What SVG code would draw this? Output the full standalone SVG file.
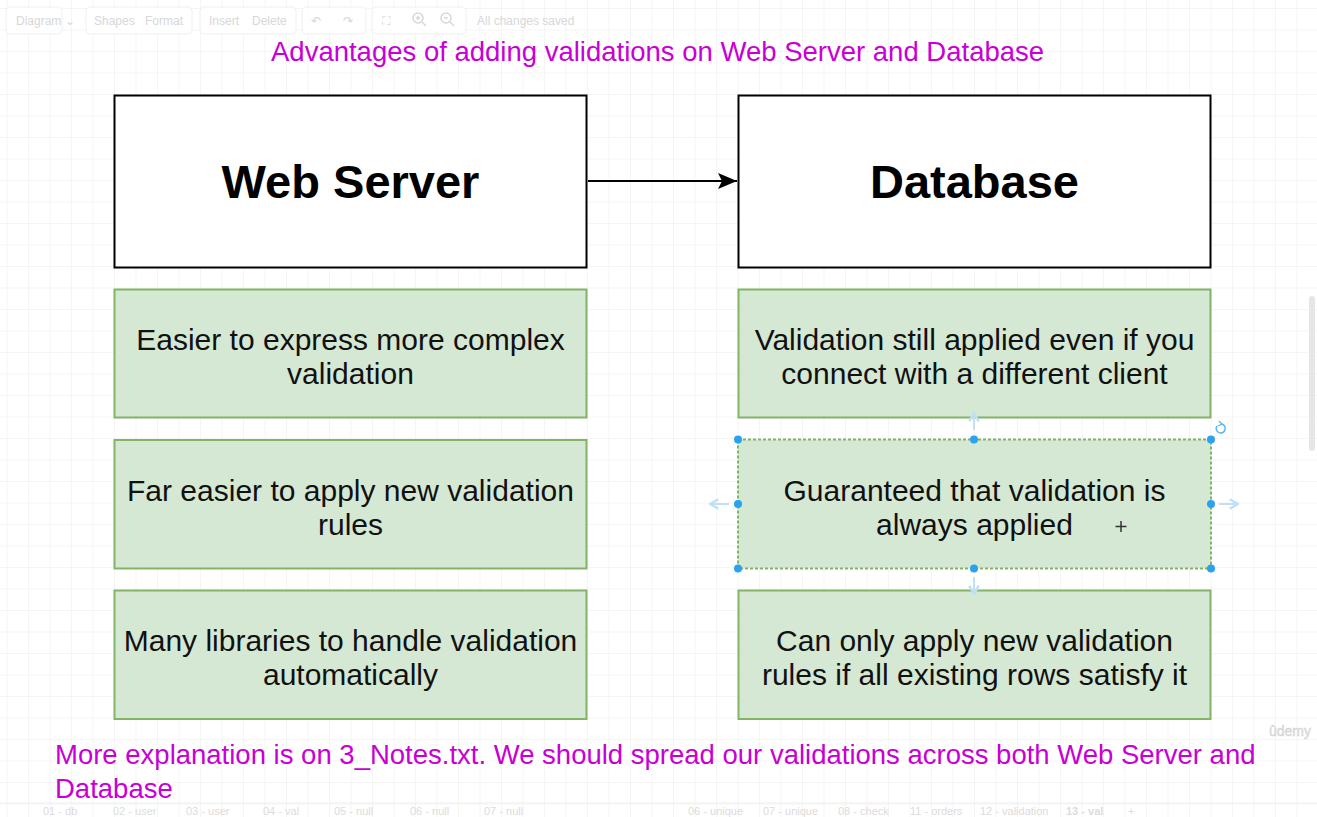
<svg xmlns="http://www.w3.org/2000/svg" width="1317" height="817" viewBox="0 0 1317 817">
<defs>
<pattern id="grid" x="6.5" y="8" width="21.5" height="21.5" patternUnits="userSpaceOnUse">
<path d="M0 0H21.5M0 0V21.5" fill="none" stroke="#ececec" stroke-width="1"/>
</pattern>
<marker id="arr" viewBox="0 0 20 18" refX="19" refY="9" markerWidth="20" markerHeight="18" markerUnits="userSpaceOnUse" orient="auto">
<path d="M0 1L19 9L0 17L4 9Z" fill="#000"/>
</marker>
<marker id="harr" viewBox="0 0 10 10" refX="9" refY="5" markerWidth="12" markerHeight="12" markerUnits="userSpaceOnUse" orient="auto">
<path d="M2 1L9 5L2 9" fill="none" stroke="#bfe0f7" stroke-width="2"/>
</marker>
</defs>
<style>
.ui{font-family:"Liberation Sans",Arial,sans-serif;font-size:12px;fill:#d4d4d4}
.tab{font-family:"Liberation Sans",Arial,sans-serif;font-size:11px;fill:#dcdcdc}
.note{font-family:"Liberation Sans",Arial,sans-serif;font-size:27.5px;fill:#c800d4}
.head{fill:#fff;stroke:#000;stroke-width:2}
.headt{font-family:"Liberation Sans",Arial,sans-serif;font-size:47px;font-weight:bold;fill:#000;text-anchor:middle}
.box{fill:#d5e8d4;stroke:#82b366;stroke-width:2}
.boxt{font-family:"Liberation Sans",Arial,sans-serif;font-size:30px;fill:#111;text-anchor:middle}
.h{fill:#29a3ef}
</style>
<rect width="1317" height="817" fill="#fff"/>
<rect width="1317" height="817" fill="url(#grid)"/>
<g id="toolbar" opacity="0.9">
<rect x="6" y="7" width="56" height="27" rx="4" fill="#fff" stroke="#f0f0f0"/>
<rect x="86" y="7" width="106" height="27" rx="4" fill="#fff" stroke="#f0f0f0"/>
<rect x="200" y="7" width="96" height="27" rx="4" fill="#fff" stroke="#f0f0f0"/>
<rect x="302" y="7" width="64" height="27" rx="4" fill="#fff" stroke="#f0f0f0"/>
<rect x="372" y="7" width="94" height="27" rx="4" fill="#fff" stroke="#f0f0f0"/>
<text class="ui" x="16" y="25">Diagram ⌄</text>
<text class="ui" x="94" y="25">Shapes</text>
<text class="ui" x="145" y="25">Format</text>
<text class="ui" x="209" y="25">Insert</text>
<text class="ui" x="252" y="25">Delete</text>
<text class="ui" x="311" y="25">↶</text>
<text class="ui" x="343" y="25">↷</text>
<text class="ui" x="382" y="25">⛶</text>
<circle cx="418" cy="18" r="5" fill="none" stroke="#d4d4d4" stroke-width="1.5"/>
<path d="M422 22L426 26M416 18H420M418 16V20" stroke="#d4d4d4" stroke-width="1.5"/>
<circle cx="446" cy="18" r="5" fill="none" stroke="#d4d4d4" stroke-width="1.5"/>
<path d="M450 22L454 26M444 18H448" stroke="#d4d4d4" stroke-width="1.5"/>
<text class="ui" x="477" y="25">All changes saved</text>
</g>
<g id="title">
<text class="note" x="271" y="61">Advantages of adding validations on Web Server and Database</text>
</g>
<g id="connectors">
<line x1="588" y1="181" x2="737" y2="181" stroke="#000" stroke-width="2" marker-end="url(#arr)"/>
</g>
<g id="web-server">
<rect class="head" x="114.5" y="95.5" width="472" height="172"/>
<text class="headt" x="350.5" y="198">Web Server</text>
</g>
<g id="database">
<rect class="head" x="738.5" y="95.5" width="472" height="172"/>
<text class="headt" x="974.5" y="198">Database</text>
</g>
<g id="ws-1">
<rect class="box" x="114.5" y="289.5" width="472" height="128"/>
<text class="boxt" x="350.5" y="350">Easier to express more complex</text>
<text class="boxt" x="350.5" y="384">validation</text>
</g>
<g id="ws-2">
<rect class="box" x="114.5" y="440" width="472" height="128.5"/>
<text class="boxt" x="350.5" y="501">Far easier to apply new validation</text>
<text class="boxt" x="350.5" y="535">rules</text>
</g>
<g id="ws-3">
<rect class="box" x="114.5" y="590.5" width="472" height="128.5"/>
<text class="boxt" x="350.5" y="651">Many libraries to handle validation</text>
<text class="boxt" x="350.5" y="685">automatically</text>
</g>
<g id="db-1">
<rect class="box" x="738.5" y="289.5" width="472" height="128"/>
<text class="boxt" x="974.5" y="350">Validation still applied even if you</text>
<text class="boxt" x="974.5" y="384">connect with a different client</text>
</g>
<g id="db-2">
<rect class="box" x="738" y="439.5" width="473" height="129" stroke-dasharray="3 2"/>
<text class="boxt" x="974.5" y="501">Guaranteed that validation is</text>
<text class="boxt" x="974.5" y="535">always applied</text>
</g>
<g id="db-3">
<rect class="box" x="738.5" y="590.5" width="472" height="128.5"/>
<text class="boxt" x="974.5" y="651">Can only apply new validation</text>
<text class="boxt" x="974.5" y="685">rules if all existing rows satisfy it</text>
</g>
<g id="selection">
<line x1="974" y1="430" x2="974" y2="413" stroke="#bfe0f7" stroke-width="2" marker-end="url(#harr)"/>
<line x1="974" y1="577" x2="974" y2="594" stroke="#bfe0f7" stroke-width="2" marker-end="url(#harr)"/>
<line x1="729" y1="504" x2="710" y2="504" stroke="#bfe0f7" stroke-width="2" marker-end="url(#harr)"/>
<line x1="1219" y1="504" x2="1238" y2="504" stroke="#bfe0f7" stroke-width="2" marker-end="url(#harr)"/>
<circle class="h" cx="738" cy="439.5" r="4"/>
<circle class="h" cx="974" cy="439.5" r="4"/>
<circle class="h" cx="1211" cy="439.5" r="4"/>
<circle class="h" cx="738" cy="504" r="4"/>
<circle class="h" cx="1211" cy="504" r="4"/>
<circle class="h" cx="738" cy="568.5" r="4"/>
<circle class="h" cx="974" cy="568.5" r="4"/>
<circle class="h" cx="1211" cy="568.5" r="4"/>
<path d="M1217 426A4.5 4.5 0 1 0 1221 424" fill="none" stroke="#5cb4f0" stroke-width="1.5"/>
<path d="M1219 421L1222 424L1218 426" fill="none" stroke="#5cb4f0" stroke-width="1.3"/>
<path d="M1121 521V532M1115.5 526.5H1126.5" stroke="#333" stroke-width="1.5"/>
</g>
<g id="note">
<text class="note" x="55" y="764">More explanation is on 3_Notes.txt. We should spread our validations across both Web Server and</text>
<text class="note" x="55" y="798">Database</text>
</g>
<g id="chrome">
<rect x="1309" y="296" width="6" height="155" rx="3" fill="#e6e6e6"/>
<text x="1290" y="736" font-family="'Liberation Sans',Arial,sans-serif" font-size="14" fill="#e0e0e0" stroke="#cfcfcf" stroke-width="0.4" text-anchor="middle">ûdemy</text>
<line x1="0" y1="803" x2="1317" y2="803" stroke="#eeeeee"/>
<text class="tab" x="43" y="815">01 - db</text>
<text class="tab" x="113" y="815">02 - user</text>
<text class="tab" x="186" y="815">03 - user</text>
<text class="tab" x="263" y="815">04 - val</text>
<text class="tab" x="334" y="815">05 - null</text>
<text class="tab" x="410" y="815">06 - null</text>
<text class="tab" x="484" y="815">07 - null</text>
<text class="tab" x="688" y="815">06 - unique</text>
<text class="tab" x="763" y="815">07 - unique</text>
<text class="tab" x="838" y="815">08 - check</text>
<text class="tab" x="910" y="815">11 - orders</text>
<text class="tab" x="980" y="815">12 - validation</text>
<text class="tab" x="1066" y="815" font-weight="bold" fill="#c8c8c8">13 - val</text>
<text class="tab" x="1128" y="815" font-size="16">+</text>
</g>
</svg>
